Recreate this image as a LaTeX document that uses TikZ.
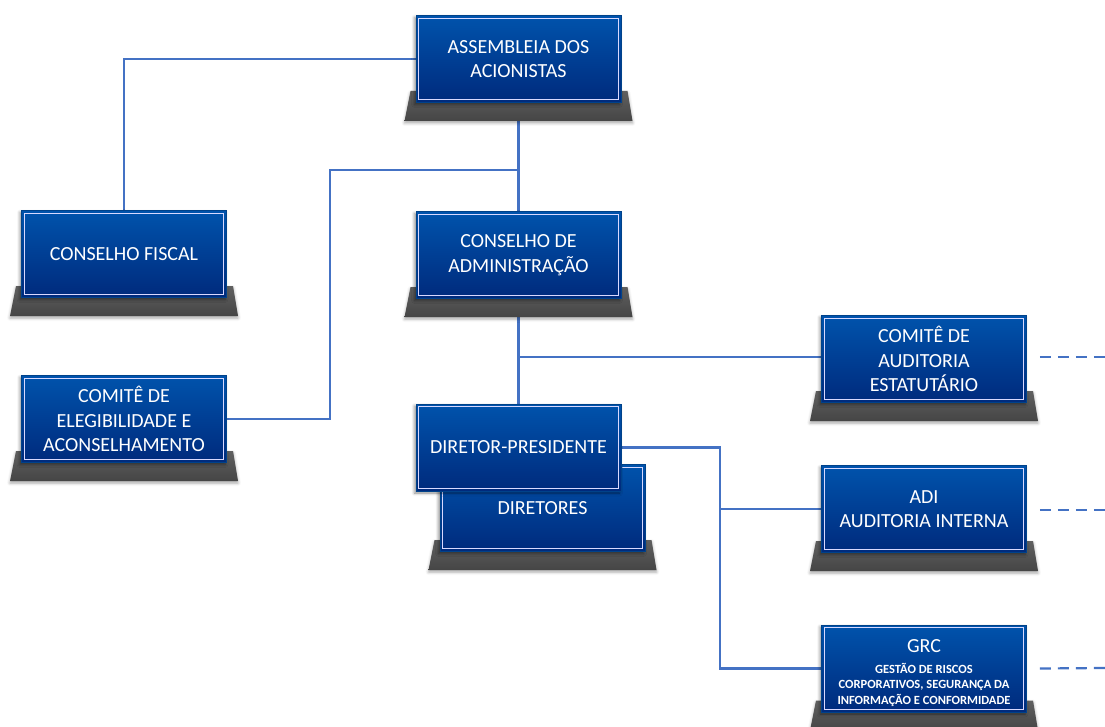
\documentclass[tikz,border=0pt]{standalone}
\usepackage{fontspec}
\setmainfont{Carlito}
\usetikzlibrary{calc,shadows.blur}
\pgfdeclarelayer{background}
\pgfsetlayers{background,main}
\definecolor{boxtop}{HTML}{0053AC}
\definecolor{boxbot}{HTML}{002A7C}
\definecolor{linec}{HTML}{4472C4}
\definecolor{basetop}{HTML}{606060}
\definecolor{basebot}{HTML}{454545}
\newcommand\grcsm{\fontsize{12.5}{15.5}\selectfont\bfseries}
\newcommand\grcbig{\fontsize{20}{15.5}\selectfont\mdseries}
\tikzset{
  orgbox/.style={minimum width=205pt, minimum height=87pt, inner sep=0pt,
    top color=boxtop, bottom color=boxbot, draw=boxtop!80!black, line width=0.6pt,
    text=white, align=center, font=\fontsize{20}{24.5}\selectfont,
    blur shadow={shadow xshift=-1.5pt, shadow yshift=-2pt, shadow blur radius=3pt, shadow opacity=45}},
  innerline/.style={draw=white!85!blue, line width=1pt},
  basefill/.style={top color=basetop, bottom color=basebot, draw=none,
    blur shadow={shadow xshift=0pt, shadow yshift=-2pt, shadow blur radius=3pt, shadow opacity=35}},
  conn/.style={draw=linec, line width=2.2pt},
  dashconn/.style={conn, dash pattern=on 11pt off 7pt},
}
\newcommand\orgbase[1]{%
  \path[basefill] ($(#1-c)+(-108,32)$) -- ($(#1-c)+(109,32)$) -- ($(#1-c)+(114,62)$) -- ($(#1-c)+(-114,62)$) -- cycle;
}
\newcommand\orgcore[4][]{%
  \node[orgbox,#1] (#2) at (#2-c) {#4};
  \draw[innerline] ($(#2.north west)+(3,3)$) rectangle ($(#2.south east)+(-3,-3)$);
}
\newcommand\orgnode[4][]{%
  \coordinate (#2-c) at (#3);
  \orgbase{#2}
  \orgcore[#1]{#2}{#3}{#4}
}
\begin{document}
\begin{tikzpicture}[x=1pt,y=-1pt]
\useasboundingbox (0,0) rectangle (1105,727);
\orgnode{asm}{518.5,59}{ASSEMBLEIA DOS\\ACIONISTAS}
\orgnode{cf}{124,254}{CONSELHO FISCAL}
\orgnode{ca}{518.5,255}{CONSELHO DE\\ADMINISTRAÇÃO}
\orgnode{ceb}{124,419}{COMITÊ DE\\ELEGIBILIDADE E\\ACONSELHAMENTO}
\orgnode{cau}{924,359}{COMITÊ DE\\AUDITORIA\\ESTATUTÁRIO}
\orgnode{dir}{542.5,508}{DIRETORES}
\coordinate (dp-c) at (518.5,447.5);
\orgcore{dp}{518.5,447.5}{DIRETOR-PRESIDENTE}
\orgnode{adi}{924,509}{ADI\\AUDITORIA INTERNA}
\orgnode[font=\grcsm]{grc}{924,668.5}{{\grcbig\rule{0pt}{22pt}GRC}\\[5pt]GESTÃO DE RISCOS\\CORPORATIVOS, SEGURANÇA DA\\INFORMAÇÃO E CONFORMIDADE}
\begin{pgfonlayer}{background}
  \draw[conn] (asm.west) -| (cf.north);
  \draw[conn] (asm.south) -- (ca.north);
  \coordinate (j1) at (518.5,170);
  \coordinate (j2) at (330,170);
  \draw[conn] (j1) -- (j2) |- (ceb.east);
  \draw[conn] (ca.south) -- (dp.north);
  \coordinate (j3) at (518.5,357);
  \draw[conn] (j3) -- (j3 -| cau.west);
  \coordinate (v) at (720,0);
  \draw[conn] (dp.east) -| (v |- grc.west) -- (grc.west);
  \draw[conn] (v |- adi.west) -- (adi.west);
\end{pgfonlayer}
\coordinate (e1) at (1105,357);
\coordinate (e2) at (1105,510);
\coordinate (e3) at (1105,668);
\draw[dashconn] ($(cau.east)+(13,-2)$) -- (e1);
\draw[dashconn] ($(adi.east)+(13,1)$) -- (e2);
\draw[dashconn] ($(grc.east)+(13,0)$) -- (e3);
\end{tikzpicture}
\end{document}
